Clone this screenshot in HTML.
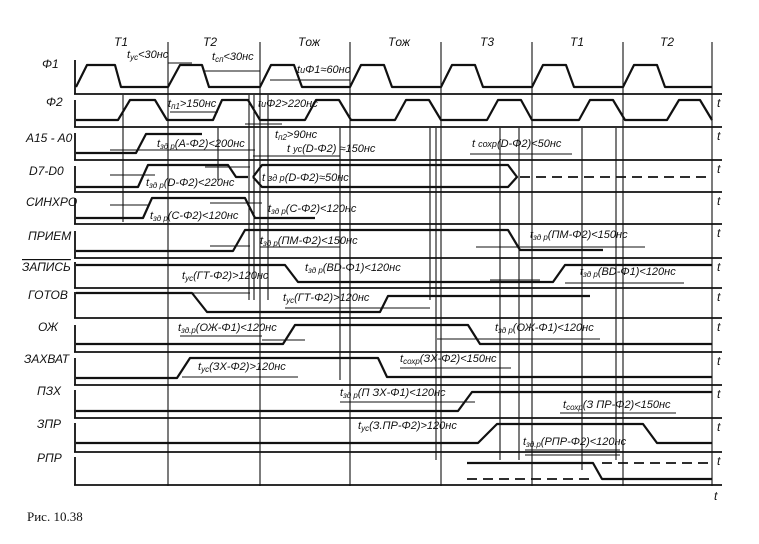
<!DOCTYPE html>
<html><head><meta charset="utf-8"><style>
html,body{margin:0;padding:0;background:#fff;}
svg{display:block;}
text{font-family:"Liberation Sans",sans-serif;font-style:italic;fill:#111;}
.lb{font-size:12px;}
.tl{font-size:11px;}
</style></head><body>
<svg width="759" height="544" viewBox="0 0 759 544" xmlns="http://www.w3.org/2000/svg">
<g stroke="#111" fill="none">
<g stroke-width="1.1">
<line x1="168" y1="42" x2="168" y2="486"/>
<line x1="260" y1="42" x2="260" y2="486"/>
<line x1="350" y1="42" x2="350" y2="486"/>
<line x1="441" y1="42" x2="441" y2="486"/>
<line x1="532" y1="42" x2="532" y2="486"/>
<line x1="623" y1="42" x2="623" y2="486"/>
<line x1="712" y1="42" x2="712" y2="486"/>
<line x1="123" y1="95" x2="123" y2="222"/>
<line x1="218" y1="128" x2="218" y2="180"/>
<line x1="249" y1="95" x2="249" y2="300"/>
<line x1="254" y1="95" x2="254" y2="300"/>
<line x1="268" y1="95" x2="268" y2="300"/>
<line x1="340" y1="128" x2="340" y2="380"/>
<line x1="430" y1="128" x2="430" y2="300"/>
<line x1="436" y1="128" x2="436" y2="460"/>
<line x1="500" y1="128" x2="500" y2="460"/>
<line x1="519" y1="128" x2="519" y2="460"/>
<line x1="582" y1="128" x2="582" y2="470"/>
<line x1="616" y1="128" x2="616" y2="460"/>
</g>
<g stroke-width="1.8">
<line x1="74" y1="94" x2="722" y2="94"/>
<line x1="74" y1="127" x2="722" y2="127"/>
<line x1="74" y1="160" x2="722" y2="160"/>
<line x1="74" y1="192" x2="722" y2="192"/>
<line x1="74" y1="224" x2="722" y2="224"/>
<line x1="74" y1="258" x2="722" y2="258"/>
<line x1="74" y1="288" x2="722" y2="288"/>
<line x1="74" y1="318" x2="722" y2="318"/>
<line x1="74" y1="352" x2="722" y2="352"/>
<line x1="74" y1="385" x2="722" y2="385"/>
<line x1="74" y1="418" x2="722" y2="418"/>
<line x1="74" y1="452" x2="722" y2="452"/>
<line x1="74" y1="485" x2="722" y2="485"/>
<line x1="75" y1="60" x2="75" y2="94"/>
<line x1="75" y1="100" x2="75" y2="127"/>
<line x1="75" y1="133" x2="75" y2="160"/>
<line x1="75" y1="166" x2="75" y2="192"/>
<line x1="75" y1="198" x2="75" y2="224"/>
<line x1="75" y1="231" x2="75" y2="258"/>
<line x1="75" y1="262" x2="75" y2="288"/>
<line x1="75" y1="292" x2="75" y2="318"/>
<line x1="75" y1="325" x2="75" y2="352"/>
<line x1="75" y1="358" x2="75" y2="385"/>
<line x1="75" y1="390" x2="75" y2="418"/>
<line x1="75" y1="423" x2="75" y2="452"/>
<line x1="75" y1="457" x2="75" y2="485"/>
</g>
<g stroke-width="2.2" stroke-linejoin="round">
<polyline points="76,87 87,65 115,65 121,87 168,87 180,65 202,65 209,87 260,87 271,65 294,65 302,87 350,87 361,65 384,65 392,87 441,87 452,65 475,65 483,87 532,87 543,65 566,65 574,87 623,87 634,65 657,65 665,87 712,87"/>
<polyline points="76,120 118,120 130,100 155,100 167,120 213,120 222,100 248,100 260,120 305,120 316,100 339,100 351,120 395,120 406,100 429,100 441,120 487,120 498,100 521,100 532,120 579,120 590,100 613,100 625,120 667,120 679,100 700,100 712,120"/>
<polyline points="76,153 136,153 146,134 202,134"/>
<polyline points="76,187 138,187 148,165 228,165 236,177 248,177"/>
<polyline points="253,177 262,165 508,165 517,177 508,187 262,187 253,177"/>
<polyline points="76,218 143,218 152,198 245,198 255,218 315,218"/>
<polyline points="76,251 233,251 245,230 508,230 520,250 603,250"/>
<polyline points="76,265 285,265 298,282 553,282 565,265 712,265"/>
<polyline points="76,293 192,293 207,312 380,312 388,296 590,296"/>
<polyline points="76,344 283,344 295,325 468,325 480,344 712,344"/>
<polyline points="76,378 177,378 190,358 378,358 387,377 712,377"/>
<polyline points="76,411 458,411 472,392 712,392"/>
<polyline points="76,443 478,443 497,424 643,424 657,443 712,443"/>
<polyline points="467,463 593,463 602,479 712,479"/>
</g>
<g stroke-width="1.7" stroke-dasharray="10,6">
<line x1="520" y1="177" x2="712" y2="177"/>
<line x1="467" y1="479" x2="593" y2="479"/>
<line x1="602" y1="463" x2="712" y2="463"/>
</g>
<g stroke-width="1.1">
<line x1="168" y1="63" x2="192" y2="63"/>
<line x1="205" y1="71" x2="260" y2="71"/>
<line x1="270" y1="80" x2="350" y2="80"/>
<line x1="170" y1="112" x2="218" y2="112"/>
<line x1="245" y1="124" x2="282" y2="124"/>
<line x1="110" y1="150" x2="255" y2="150"/>
<line x1="253" y1="156" x2="340" y2="156"/>
<line x1="470" y1="154" x2="572" y2="154"/>
<line x1="110" y1="175" x2="155" y2="175"/>
<line x1="205" y1="167" x2="250" y2="167"/>
<line x1="110" y1="205" x2="150" y2="205"/>
<line x1="210" y1="203" x2="262" y2="203"/>
<line x1="210" y1="246" x2="250" y2="246"/>
<line x1="260" y1="247" x2="340" y2="247"/>
<line x1="476" y1="247" x2="645" y2="247"/>
<line x1="490" y1="280" x2="540" y2="280"/>
<line x1="565" y1="283" x2="684" y2="283"/>
<line x1="192" y1="293" x2="250" y2="293"/>
<line x1="285" y1="308" x2="430" y2="308"/>
<line x1="180" y1="336" x2="262" y2="336"/>
<line x1="262" y1="340" x2="305" y2="340"/>
<line x1="437" y1="339" x2="600" y2="339"/>
<line x1="182" y1="377" x2="298" y2="377"/>
<line x1="400" y1="368" x2="511" y2="368"/>
<line x1="340" y1="402" x2="475" y2="402"/>
<line x1="560" y1="413" x2="676" y2="413"/>
<line x1="525" y1="450" x2="620" y2="450"/>
<line x1="525" y1="455" x2="620" y2="455"/>
</g>
</g>
<g class="lb">
<text x="717" y="107">t</text><text x="717" y="140">t</text><text x="717" y="173">t</text>
<text x="717" y="205">t</text><text x="717" y="237">t</text><text x="717" y="271">t</text>
<text x="717" y="301">t</text><text x="717" y="331">t</text><text x="717" y="365">t</text>
<text x="717" y="398">t</text><text x="717" y="431">t</text><text x="717" y="465">t</text>
<text x="714" y="500">t</text>
</g>
<g class="lb">
<text x="42" y="68">Φ1</text>
<text x="46" y="106">Φ2</text>
<text x="26" y="142">A15 - A0</text>
<text x="29" y="175">D7-D0</text>
<text x="26" y="206">СИНХРО</text>
<text x="28" y="240">ПРИЕМ</text>
<text x="22" y="271" text-decoration="overline">ЗАПИСЬ</text>
<text x="28" y="299">ГОТОВ</text>
<text x="38" y="331">ОЖ</text>
<text x="24" y="363">ЗАХВАТ</text>
<text x="37" y="395">ПЗХ</text>
<text x="37" y="428">ЗПР</text>
<text x="37" y="462">РПР</text>
</g>
<g class="lb">
<text x="114" y="46">T1</text><text x="203" y="46">T2</text><text x="298" y="46">Tож</text>
<text x="388" y="46">Tож</text><text x="480" y="46">T3</text><text x="570" y="46">T1</text><text x="660" y="46">T2</text>
</g>
<g class="tl">
<text x="127" y="58">t<tspan font-size="8" dy="2">ус</tspan><tspan dy="-2">&lt;30нс</tspan></text>
<text x="212" y="60">t<tspan font-size="8" dy="2">сп</tspan><tspan dy="-2">&lt;30нс</tspan></text>
<text x="297" y="73">t<tspan font-size="9">и</tspan>Φ1≈60нс</text>
<text x="168" y="107">t<tspan font-size="8" dy="2">п1</tspan><tspan dy="-2">&gt;150нс</tspan></text>
<text x="258" y="107">t<tspan font-size="9">и</tspan>Φ2&gt;220нс</text>
<text x="275" y="138">t<tspan font-size="8" dy="2">п2</tspan><tspan dy="-2">&gt;90нс</tspan></text>
<text x="157" y="147">t<tspan font-size="8" dy="2">зд р</tspan><tspan dy="-2">(A-Φ2)&lt;200нс</tspan></text>
<text x="287" y="152">t <tspan font-size="9">ус</tspan>(D-Φ2) ≈150нс</text>
<text x="472" y="147">t <tspan font-size="9">сохр</tspan>(D-Φ2)&lt;50нс</text>
<text x="146" y="186">t<tspan font-size="8" dy="2">зд р</tspan><tspan dy="-2">(D-Φ2)&lt;220нс</tspan></text>
<text x="262" y="181">t <tspan font-size="9">зд р</tspan>(D-Φ2)≈50нс</text>
<text x="268" y="212">t<tspan font-size="8" dy="2">зд р</tspan><tspan dy="-2">(C-Φ2)&lt;120нс</tspan></text>
<text x="150" y="219">t<tspan font-size="8" dy="2">зд р</tspan><tspan dy="-2">(C-Φ2)&lt;120нс</tspan></text>
<text x="260" y="244">t<tspan font-size="8" dy="2">зд р</tspan><tspan dy="-2">(ПМ-Φ2)&lt;150нс</tspan></text>
<text x="530" y="238">t<tspan font-size="8" dy="2">зд р</tspan><tspan dy="-2">(ПМ-Φ2)&lt;150нс</tspan></text>
<text x="305" y="271">t<tspan font-size="8" dy="2">зд р</tspan><tspan dy="-2">(ВD-Φ1)&lt;120нс</tspan></text>
<text x="182" y="279">t<tspan font-size="8" dy="2">ус</tspan><tspan dy="-2">(ГТ-Φ2)&gt;120нс</tspan></text>
<text x="580" y="275">t<tspan font-size="8" dy="2">зд р</tspan><tspan dy="-2">(ВD-Φ1)&lt;120нс</tspan></text>
<text x="283" y="301">t<tspan font-size="8" dy="2">ус</tspan><tspan dy="-2">(ГТ-Φ2)&gt;120нс</tspan></text>
<text x="178" y="331">t<tspan font-size="8" dy="2">зд.р</tspan><tspan dy="-2">(ОЖ-Φ1)&lt;120нс</tspan></text>
<text x="495" y="331">t<tspan font-size="8" dy="2">зд р</tspan><tspan dy="-2">(ОЖ-Φ1)&lt;120нс</tspan></text>
<text x="198" y="370">t<tspan font-size="8" dy="2">ус</tspan><tspan dy="-2">(ЗХ-Φ2)&gt;120нс</tspan></text>
<text x="400" y="362">t<tspan font-size="8" dy="2">сохр</tspan><tspan dy="-2">(ЗХ-Φ2)&lt;150нс</tspan></text>
<text x="340" y="396">t<tspan font-size="8" dy="2">зд р</tspan><tspan dy="-2">(П ЗХ-Φ1)&lt;120нс</tspan></text>
<text x="563" y="408">t<tspan font-size="8" dy="2">сохр</tspan><tspan dy="-2">(З ПР-Φ2)&lt;150нс</tspan></text>
<text x="358" y="429">t<tspan font-size="8" dy="2">ус</tspan><tspan dy="-2">(З.ПР-Φ2)&gt;120нс</tspan></text>
<text x="523" y="445">t<tspan font-size="8" dy="2">зд.р</tspan><tspan dy="-2">(РПР-Φ2)&lt;120нс</tspan></text>
</g>
<text x="27" y="521" style="font-family:'Liberation Serif',serif;font-style:normal;font-size:13px">Рис. 10.38</text>
</svg>
</body></html>
